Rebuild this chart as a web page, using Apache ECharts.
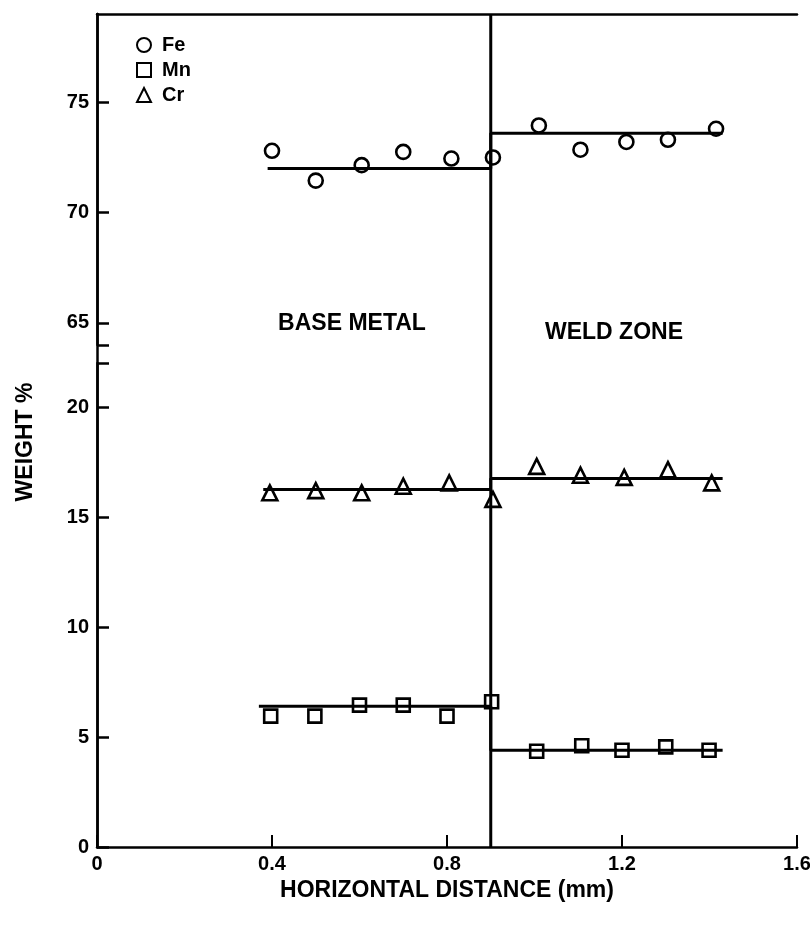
<!DOCTYPE html>
<html>
<head>
<meta charset="utf-8">
<script src="https://cdn.jsdelivr.net/npm/echarts@6/dist/echarts.min.js"></script>
<style>
  html, body { margin: 0; background: #fff; }
  #main { width: 810px; height: 925px; }
</style>
</head>
<body>
<div id="main"></div>
<script>
// measured points, horizontal distance (mm) / weight %
var feX = [0.40, 0.50, 0.605, 0.70, 0.81, 0.905, 1.01, 1.105, 1.21, 1.305, 1.415];
var feY = [72.8, 71.45, 72.15, 72.75, 72.45, 72.5, 73.95, 72.85, 73.2, 73.3, 73.8];
var mnX = [0.397, 0.498, 0.60, 0.70, 0.80, 0.902, 1.005, 1.108, 1.20, 1.30, 1.399];
var mnY = [5.95, 5.95, 6.45, 6.45, 5.95, 6.6, 4.35, 4.6, 4.4, 4.55, 4.4];
var crX = [0.395, 0.50, 0.605, 0.70, 0.805, 0.905, 1.005, 1.105, 1.205, 1.305, 1.405];
var crY = [16.1, 16.2, 16.1, 16.4, 16.55, 15.8, 17.3, 16.9, 16.8, 17.15, 16.55];

// fitted levels (base metal -> weld zone)
var feFitX = [0.39, 0.9, 0.9, 1.43];
var feFitY = [72.0, 72.0, 73.6, 73.6];
var mnFitX = [0.37, 0.9, 0.9, 1.43];
var mnFitY = [6.4, 6.4, 4.4, 4.4];
var crFitX = [0.38, 0.9, 0.9, 1.43];
var crFitY = [16.25, 16.25, 16.75, 16.75];

var boundaryX = 0.9;

// axis ticks (broken y axis)
var upperTicks = [64, 65, 70, 75];
var upperLabels = [65, 70, 75];
var lowerTicks = [0, 5, 10, 15, 20, 22];
var lowerLabels = [0, 5, 10, 15, 20];

var FONT = '"Liberation Sans", Arial, sans-serif';
var black = '#000';

function pairs(xs, ys) {
  var out = [];
  for (var i = 0; i < xs.length; i++) {
    out.push([xs[i], ys[i]]);
  }
  return out;
}

var axisLine = { show: true, lineStyle: { color: black, width: 2.5 } };
var tickLabel = { color: black, fontSize: 20, fontWeight: 'bold', fontFamily: FONT };
var markerStyle = { color: 'rgba(0,0,0,0)', borderColor: black, borderWidth: 2.6, opacity: 1 };

function fitLine(xs, ys, gi) {
  return {
    type: 'line', xAxisIndex: gi, yAxisIndex: gi,
    data: pairs(xs, ys), symbol: 'none', silent: true, z: 2,
    lineStyle: { color: black, width: 3 }
  };
}

var chart = echarts.init(document.getElementById('main'));

var option = {
  backgroundColor: '#fff',
  animation: false,
  grid: [
    { left: 97, right: 13, top: 14, height: 331, outerBoundsMode: 'none' },
    { left: 97, right: 13, top: 363, height: 484, outerBoundsMode: 'none' },
    { left: 97, right: 13, top: 14, height: 833, outerBoundsMode: 'none' }
  ],
  legend: {
    data: ['Fe', 'Mn', 'Cr'],
    orient: 'vertical',
    left: 131, top: 30,
    itemWidth: 14, itemHeight: 14, itemGap: 5,
    textStyle: { color: black, fontSize: 20, fontWeight: 'bold', fontFamily: FONT, padding: [0, 0, 0, 6] }
  },
  xAxis: [
    {
      gridIndex: 0, type: 'value', min: 0, max: 1.6, position: 'top',
      axisLine: axisLine, axisTick: { show: false }, axisLabel: { show: false },
      splitLine: { show: false }
    },
    {
      gridIndex: 1, type: 'value', min: 0, max: 1.6, interval: 0.4, position: 'bottom',
      axisLine: axisLine,
      axisTick: { show: true, inside: true, length: 12, lineStyle: { color: black, width: 2 } },
      axisLabel: Object.assign({ margin: 7 }, tickLabel),
      splitLine: { show: false },
      name: 'HORIZONTAL DISTANCE (mm)', nameLocation: 'middle', nameGap: 30,
      nameTextStyle: { color: black, fontSize: 23, fontWeight: 'bold', fontFamily: FONT }
    },
    { gridIndex: 2, type: 'value', min: 0, max: 1.6, show: false }
  ],
  yAxis: [
    {
      gridIndex: 0, type: 'value', min: 64, max: 79,
      axisLine: axisLine,
      axisTick: { show: true, inside: true, length: 12, customValues: upperTicks, lineStyle: { color: black, width: 2.5 } },
      axisLabel: Object.assign({ margin: 8, customValues: upperLabels }, tickLabel),
      splitLine: { show: false }
    },
    {
      gridIndex: 1, type: 'value', min: 0, max: 22,
      axisLine: axisLine,
      axisTick: { show: true, inside: true, length: 12, customValues: lowerTicks, lineStyle: { color: black, width: 2.5 } },
      axisLabel: Object.assign({ margin: 8, customValues: lowerLabels }, tickLabel),
      splitLine: { show: false }
    },
    {
      gridIndex: 2, type: 'value', min: 0, max: 1, position: 'right',
      axisLine: axisLine, axisTick: { show: false }, axisLabel: { show: false },
      splitLine: { show: false }
    }
  ],
  series: [
    fitLine(feFitX, feFitY, 0),
    fitLine(mnFitX, mnFitY, 1),
    fitLine(crFitX, crFitY, 1),
    {
      type: 'line', xAxisIndex: 2, yAxisIndex: 2, silent: true, symbol: 'none', z: 2,
      data: [[boundaryX, 0], [boundaryX, 1]],
      lineStyle: { color: black, width: 3 }
    },
    {
      name: 'Fe', type: 'scatter', xAxisIndex: 0, yAxisIndex: 0,
      symbol: 'circle', symbolSize: 14, z: 3,
      itemStyle: markerStyle, data: pairs(feX, feY)
    },
    {
      name: 'Mn', type: 'scatter', xAxisIndex: 1, yAxisIndex: 1,
      symbol: 'rect', symbolSize: 13, z: 3,
      itemStyle: markerStyle, data: pairs(mnX, mnY)
    },
    {
      name: 'Cr', type: 'scatter', xAxisIndex: 1, yAxisIndex: 1,
      symbol: 'triangle', symbolSize: 15, z: 3,
      itemStyle: markerStyle, data: pairs(crX, crY)
    }
  ],
  graphic: [
    {
      type: 'text', x: 352, y: 324,
      style: { text: 'BASE METAL', fill: black, font: 'bold 23px ' + FONT, textAlign: 'center', textVerticalAlign: 'middle' }
    },
    {
      type: 'text', x: 614, y: 333,
      style: { text: 'WELD ZONE', fill: black, font: 'bold 23px ' + FONT, textAlign: 'center', textVerticalAlign: 'middle' }
    },
    {
      type: 'text', x: 26, y: 442, rotation: Math.PI / 2,
      style: { text: 'WEIGHT %', fill: black, font: 'bold 23px ' + FONT, textAlign: 'center', textVerticalAlign: 'middle' }
    }
  ]
};

chart.setOption(option);
</script>
</body>
</html>
